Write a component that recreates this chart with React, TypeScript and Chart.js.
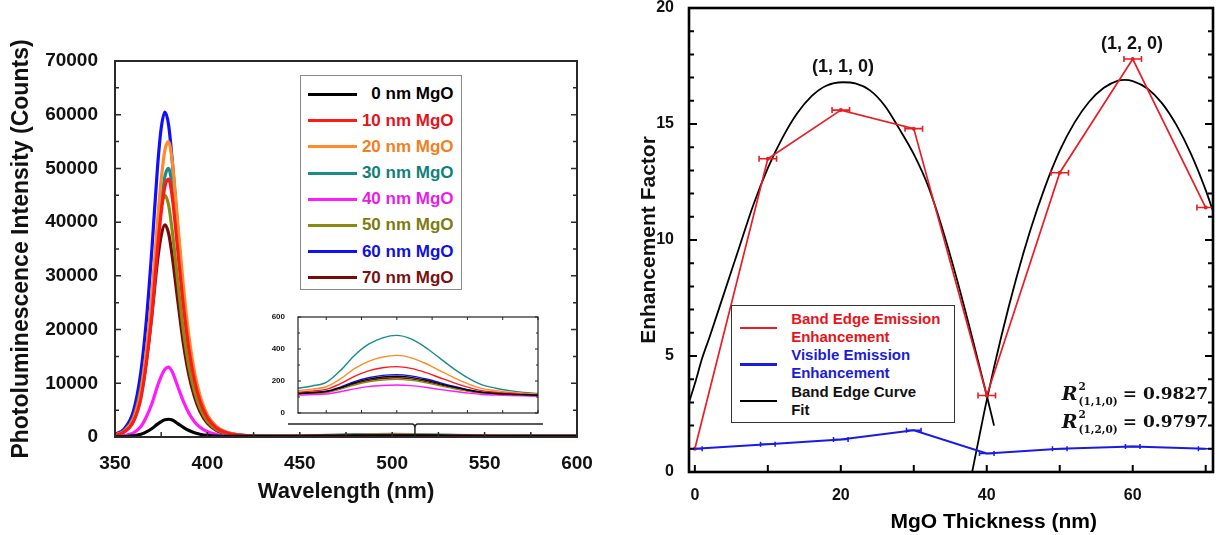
import React, { useEffect, useRef } from 'react';
import { Chart, registerables } from 'chart.js';

Chart.register(...registerables);
Chart.defaults.font.family = "'Liberation Sans', Arial, sans-serif";
Chart.defaults.color = '#000';

// ---------------- Left chart data ----------------
const seriesLabels = ['0 nm MgO', '10 nm MgO', '20 nm MgO', '30 nm MgO', '40 nm MgO', '50 nm MgO', '60 nm MgO', '70 nm MgO'];
const lineColors = ['#000000', '#ff1a1a', '#ff8c28', '#1a8c8c', '#ff1aff', '#8a8a10', '#1010ff', '#7a0a0a'];
const textColors = ['#000000', '#e4141c', '#f08020', '#117f7a', '#e81ce8', '#7c7c10', '#1010e0', '#7a1010'];

const bandWavelengths = [350, 355, 360, 364, 367, 370, 373, 375, 377, 379, 381, 384, 387, 390, 393, 396, 400, 405, 410, 415, 420];
const band0 = [20, 66, 200, 500, 960, 1580, 2400, 2870, 3200, 3300, 3150, 2500, 1800, 1200, 800, 520, 300, 170, 130, 125, 122];
const band10 = [290, 960, 2880, 7200, 13900, 23000, 35000, 41800, 46600, 48000, 44600, 34600, 24500, 16300, 10600, 6700, 3600, 1680, 820, 430, 240];
const band20 = [330, 1100, 3300, 8250, 16000, 26400, 40200, 47900, 53400, 55000, 51200, 39600, 28100, 18700, 12100, 7700, 4100, 1900, 940, 500, 280];
const band30 = [300, 1000, 3000, 7500, 14500, 24000, 36500, 43500, 48500, 50000, 46500, 36000, 25500, 17000, 11000, 7000, 3750, 1750, 850, 450, 250];
const band40 = [80, 260, 780, 1950, 3770, 6240, 9490, 11300, 12600, 13000, 12100, 9360, 6630, 4420, 2860, 1820, 980, 460, 220, 150, 120];
const band50 = [360, 1130, 3600, 9000, 16200, 26100, 37400, 42800, 45000, 43200, 38300, 28800, 19800, 13100, 8550, 5400, 2900, 1350, 680, 360, 225];
const band60 = [480, 1510, 4840, 12100, 21800, 35100, 50200, 57500, 60500, 58100, 51400, 38700, 26600, 17500, 11500, 7300, 3900, 1800, 900, 480, 300];
const band70 = [320, 990, 3160, 7900, 14200, 22900, 32800, 37500, 39500, 37900, 33600, 25300, 17400, 11500, 7500, 4740, 2570, 1190, 590, 320, 200];

const visWavelengths = [430, 440, 450, 460, 470, 480, 490, 500, 510, 520, 530, 540, 550, 560, 570, 580, 590, 600];
const vis0 = [122, 127, 134, 158, 189, 212, 225, 230, 223, 206, 184, 163, 144, 129, 122, 117, 114, 111];
const vis10 = [130, 137, 148, 183, 229, 263, 283, 290, 279, 254, 222, 190, 162, 140, 130, 123, 117, 114];
const vis20 = [140, 149, 164, 213, 277, 323, 350, 360, 345, 311, 267, 223, 184, 154, 140, 130, 122, 117];
const vis30 = [155, 169, 191, 265, 360, 430, 470, 485, 463, 412, 346, 279, 221, 177, 155, 140, 129, 122];
const vis40 = [112, 115, 119, 133, 151, 165, 172, 175, 171, 161, 148, 136, 125, 116, 112, 109, 107, 106];
const vis50 = [118, 122, 128, 149, 175, 195, 206, 210, 204, 190, 171, 153, 137, 124, 118, 114, 111, 109];
const vis60 = [123, 128, 136, 162, 196, 220, 235, 240, 232, 214, 191, 167, 146, 131, 123, 118, 114, 111];
const vis70 = [119, 124, 130, 153, 182, 203, 216, 220, 213, 198, 177, 157, 139, 126, 119, 115, 111, 109];

const bandSeries = [band0, band10, band20, band30, band40, band50, band60, band70];
const visSeries = [vis0, vis10, vis20, vis30, vis40, vis50, vis60, vis70];

const mainXTicks = { min: 350, max: 600, step: 50 };
const mainYTicks = { min: 0, max: 70000, step: 10000 };
const insetYTicks = { min: 0, max: 600, step: 200 };
const insetXRange = { min: 430, max: 600 };

// ---------------- Right chart data ----------------
const thickness = [0, 10, 20, 30, 40, 50, 60, 70];
const bandEdgeEnh = [1.0, 13.5, 15.6, 14.8, 3.3, 12.9, 17.8, 11.4];
const bandEdgeErr = [0, 1.2, 1.2, 1.2, 1.2, 1.2, 1.2, 1.2];
const visibleEnh = [1.0, 1.2, 1.4, 1.8, 0.8, 1.0, 1.1, 1.0];
const visibleErr = [1.0, 1.0, 1.0, 1.0, 1.0, 1.0, 1.0, 1.0];
const fit1X = [-0.8, 0, 1, 2, 4, 6, 8, 10, 12, 14, 16, 18, 20.3, 22, 24, 26, 28, 30, 32, 34, 36, 38, 40, 41];
const fit1Y = [3.0, 3.8, 4.9, 5.8, 7.7, 9.6, 11.5, 13.1, 14.4, 15.45, 16.2, 16.65, 16.8, 16.75, 16.45, 15.8, 14.8, 13.7, 12.3, 10.4, 8.2, 5.8, 3.3, 2.0];
const fit2X = [38, 39, 40, 42, 44, 46, 48, 50, 52, 54, 56, 58, 58.9, 60, 62, 64, 66, 68, 70, 71];
const fit2Y = [0.0, 1.57, 3.1, 5.85, 8.3, 10.45, 12.3, 13.85, 15.05, 15.95, 16.55, 16.87, 16.9, 16.85, 16.53, 15.9, 14.95, 13.7, 12.15, 11.25];
const peakLabels = ['(1, 1, 0)', '(1, 2, 0)'];
const peakLabelX = [20.3, 59.9];
const peakLabelY = [17.45, 18.45];
const rSquaredLabels = ['(1,1,0)', '(1,2,0)'];
const rSquaredValues = ['0.9827', '0.9797'];

const rightLegend = [
  { lines: ['Band Edge Emission', 'Enhancement'], color: '#ec1c24', text: '#e8141c' },
  { lines: ['Visible Emission', 'Enhancement'], color: '#1b1be6', text: '#1c1cd8' },
  { lines: ['Band Edge Curve', 'Fit'], color: '#000000', text: '#111111' },
];

// ---------------- Plugins ----------------
const frameTicks = {
  id: 'frameTicks',
  afterDraw(chart: any, _args: any, opts: any) {
    if (!opts || !opts.show) return;
    const { ctx, chartArea: a } = chart;
    const xs = chart.scales.x;
    const ys = chart.scales.y;
    const vals = (min: number, max: number, step: number) => {
      const out: number[] = [];
      const start = Math.ceil((min - 1e-6) / step) * step;
      for (let v = start; v <= max + 1e-6; v += step) out.push(Math.round(v * 1e6) / 1e6);
      return out;
    };
    const isMajor = (v: number, m: number) => Math.abs(v / m - Math.round(v / m)) < 1e-6;
    ctx.save();
    ctx.strokeStyle = opts.color;
    ctx.lineWidth = opts.tickWidth;
    ctx.beginPath();
    if (opts.yStep) {
      for (const v of vals(ys.min, ys.max, opts.yStep)) {
        const py = ys.getPixelForValue(v);
        const len = isMajor(v, opts.yMajor) ? opts.yMajorLen : opts.yMinorLen;
        ctx.moveTo(a.left, py); ctx.lineTo(a.left + len, py);
        if (opts.yMirror) { ctx.moveTo(a.right, py); ctx.lineTo(a.right - len, py); }
      }
    }
    if (opts.xStep) {
      for (const v of vals(xs.min, xs.max, opts.xStep)) {
        const px = xs.getPixelForValue(v);
        const len = isMajor(v, opts.xMajor) ? opts.xMajorLen : opts.xMinorLen;
        ctx.moveTo(px, a.bottom); ctx.lineTo(px, a.bottom - len);
        if (opts.xMirror) { ctx.moveTo(px, a.top); ctx.lineTo(px, a.top + len); }
      }
    }
    ctx.stroke();
    ctx.lineWidth = opts.frameWidth;
    ctx.strokeRect(a.left, a.top, a.right - a.left, a.bottom - a.top);
    ctx.restore();
  },
};

const bracketSpec = { from: 443.6, to: 581.6, tip: 512.3, level: 2420, drop: 0 };
const bracketPlugin = {
  id: 'bracket',
  afterDatasetsDraw(chart: any) {
    const { ctx } = chart;
    const xs = chart.scales.x;
    const ys = chart.scales.y;
    const x1 = xs.getPixelForValue(bracketSpec.from);
    const x2 = xs.getPixelForValue(bracketSpec.to);
    const xt = xs.getPixelForValue(bracketSpec.tip);
    const y = ys.getPixelForValue(bracketSpec.level);
    const yb = ys.getPixelForValue(bracketSpec.drop);
    ctx.save();
    ctx.strokeStyle = '#222';
    ctx.lineWidth = 1.5;
    ctx.beginPath();
    ctx.moveTo(x1, y);
    ctx.lineTo(xt - 3, y);
    ctx.quadraticCurveTo(xt, y, xt, y + 4);
    ctx.quadraticCurveTo(xt, y, xt + 3, y);
    ctx.lineTo(x2, y);
    ctx.moveTo(xt, y + 3);
    ctx.lineTo(xt, yb);
    ctx.stroke();
    ctx.restore();
  },
};

const errorBars = {
  id: 'errorBars',
  afterDatasetsDraw(chart: any) {
    const { ctx, chartArea: a } = chart;
    const xs = chart.scales.x;
    ctx.save();
    ctx.beginPath();
    ctx.rect(a.left, a.top, a.right - a.left, a.bottom - a.top);
    ctx.clip();
    chart.data.datasets.forEach((ds: any, i: number) => {
      if (!ds.xErr) return;
      const meta = chart.getDatasetMeta(i);
      ctx.strokeStyle = ds.borderColor;
      ctx.lineWidth = ds.errWidth || 1.5;
      ctx.beginPath();
      meta.data.forEach((pt: any, k: number) => {
        const d = ds.data[k];
        const e = ds.xErr[k];
        if (!e) return;
        const xl = xs.getPixelForValue(d.x - e);
        const xr = xs.getPixelForValue(d.x + e);
        const y = pt.y;
        const c = ds.capHalf || 3;
        ctx.moveTo(xl, y); ctx.lineTo(xr, y);
        ctx.moveTo(xl, y - c); ctx.lineTo(xl, y + c);
        ctx.moveTo(xr, y - c); ctx.lineTo(xr, y + c);
      });
      ctx.stroke();
    });
    ctx.restore();
  },
};

const rightText = {
  id: 'rightText',
  afterDraw(chart: any) {
    const { ctx } = chart;
    const xs = chart.scales.x;
    const ys = chart.scales.y;
    ctx.save();
    ctx.fillStyle = '#111';
    ctx.textAlign = 'center';
    ctx.textBaseline = 'middle';
    ctx.font = "bold 18px 'Liberation Sans', Arial, sans-serif";
    peakLabels.forEach((t, i) => {
      ctx.fillText(t, xs.getPixelForValue(peakLabelX[i]), ys.getPixelForValue(peakLabelY[i]));
    });
    ctx.font = "bold 21px 'Liberation Sans', Arial, sans-serif";
    ctx.fillStyle = '#000';
    ctx.fillText('MgO Thickness (nm)', xs.getPixelForValue(40) + 7, chart.height - 13);
    ctx.restore();
  },
};

// ---------------- Configs ----------------
function mainConfig(): any {
  const datasets = seriesLabels.map((label, i) => ({
    label,
    data: [
      ...bandWavelengths.map((w, k) => ({ x: w, y: bandSeries[i][k] })),
      ...visWavelengths.map((w, k) => ({ x: w, y: visSeries[i][k] })),
    ],
    borderColor: lineColors[i],
    borderWidth: 3.2,
    pointRadius: 0,
    cubicInterpolationMode: 'monotone',
    fill: false,
  }));
  return {
    type: 'line',
    data: { datasets },
    plugins: [frameTicks, bracketPlugin],
    options: {
      responsive: false,
      animation: false,
      layout: { padding: { top: 61, right: 23, left: 0, bottom: 0 } },
      plugins: {
        legend: { display: false },
        tooltip: { enabled: false },
        frameTicks: {
          show: true, color: '#2a2a2a', tickWidth: 1.5, frameWidth: 2,
          yStep: 5000, yMajor: 10000, yMajorLen: 6, yMinorLen: 4, yMirror: true,
          xStep: 25, xMajor: 50, xMajorLen: 5, xMinorLen: 5, xMirror: false,
        },
      },
      scales: {
        x: {
          type: 'linear', min: mainXTicks.min, max: mainXTicks.max,
          grid: { display: false }, border: { display: false },
          ticks: { stepSize: mainXTicks.step, font: { size: 19, weight: 'bold' }, padding: 7, color: '#111', maxRotation: 0 },
          title: { display: true, text: 'Wavelength (nm)', font: { size: 22, weight: 'bold' }, padding: { top: 0, bottom: 30 }, color: '#111' },
          afterFit: (s: any) => { s.height = 98; s.paddingLeft = 0; s.paddingRight = 0; },
        },
        y: {
          type: 'linear', min: mainYTicks.min, max: mainYTicks.max,
          grid: { display: false }, border: { display: false },
          ticks: { stepSize: mainYTicks.step, font: { size: 19, weight: 'bold' }, padding: 9, color: '#111', callback: (v: any) => String(v) },
          title: { display: true, text: 'Photoluminescence Intensity (Counts)', font: { size: 23, weight: 'bold' }, padding: { top: 8, bottom: 0 }, color: '#111' },
          afterFit: (s: any) => { s.width = 115; s.paddingTop = 0; s.paddingBottom = 0; },
        },
      },
    },
  };
}

function insetConfig(): any {
  const datasets = seriesLabels.map((label, i) => ({
    label,
    data: visWavelengths.map((w, k) => ({ x: w, y: visSeries[i][k] })),
    borderColor: lineColors[i],
    borderWidth: 1.4,
    pointRadius: 0,
    cubicInterpolationMode: 'monotone',
    fill: false,
  }));
  return {
    type: 'line',
    data: { datasets },
    plugins: [frameTicks],
    options: {
      responsive: false,
      animation: false,
      layout: { padding: { top: 17, right: 17, left: 0, bottom: 0 } },
      plugins: {
        legend: { display: false },
        tooltip: { enabled: false },
        frameTicks: {
          show: true, color: '#222', tickWidth: 1, frameWidth: 1.2,
          yStep: 100, yMajor: 200, yMajorLen: 3, yMinorLen: 2, yMirror: true,
          xStep: 25, xMajor: 25, xMajorLen: 3, xMinorLen: 3, xMirror: true,
        },
      },
      scales: {
        x: {
          type: 'linear', min: insetXRange.min, max: insetXRange.max,
          grid: { display: false }, border: { display: false },
          ticks: { display: false },
          afterFit: (s: any) => { s.height = 12; s.paddingLeft = 0; s.paddingRight = 0; },
        },
        y: {
          type: 'linear', min: insetYTicks.min, max: insetYTicks.max,
          grid: { display: false }, border: { display: false },
          ticks: { stepSize: insetYTicks.step, font: { size: 8, weight: 'bold' }, padding: 5, color: '#111', callback: (v: any) => String(v) },
          afterFit: (s: any) => { s.width = 28; s.paddingTop = 0; s.paddingBottom = 0; },
        },
      },
    },
  };
}

function rightConfig(): any {
  const pts = (xs: number[], ys: number[]) => xs.map((x, k) => ({ x, y: ys[k] }));
  return {
    type: 'line',
    data: {
      datasets: [
        {
          label: 'Band Edge Emission Enhancement', data: pts(thickness, bandEdgeEnh),
          borderColor: '#ec1c24', backgroundColor: '#ec1c24', borderWidth: 1.7,
          pointRadius: 2, pointBorderWidth: 0, tension: 0, xErr: bandEdgeErr, errWidth: 1.6, capHalf: 3,
        },
        {
          label: 'Visible Emission Enhancement', data: pts(thickness, visibleEnh),
          borderColor: '#1b1be6', backgroundColor: '#1b1be6', borderWidth: 2,
          pointRadius: 0, tension: 0, xErr: visibleErr, errWidth: 1.5, capHalf: 2.5,
        },
        {
          label: 'Band Edge Curve Fit', data: pts(fit1X, fit1Y),
          borderColor: '#000', borderWidth: 1.8, pointRadius: 0, cubicInterpolationMode: 'monotone',
        },
        {
          label: 'Band Edge Curve Fit 2', data: pts(fit2X, fit2Y),
          borderColor: '#000', borderWidth: 1.8, pointRadius: 0, cubicInterpolationMode: 'monotone',
        },
      ],
    },
    plugins: [frameTicks, errorBars, rightText],
    options: {
      responsive: false,
      animation: false,
      layout: { padding: { top: 8, right: 12, left: 0, bottom: 0 } },
      plugins: {
        legend: { display: false },
        tooltip: { enabled: false },
        frameTicks: {
          show: true, color: '#000', tickWidth: 2, frameWidth: 2.6,
          yStep: 1, yMajor: 5, yMajorLen: 8, yMinorLen: 5, yMirror: true,
          xStep: 10, xMajor: 10, xMajorLen: 7, xMinorLen: 7, xMirror: false,
        },
      },
      scales: {
        x: {
          type: 'linear', min: -0.8, max: 71,
          grid: { display: false }, border: { display: false },
          ticks: {
            stepSize: 10, includeBounds: false, font: { size: 16, weight: 'bold' }, padding: 5.5, color: '#111', maxRotation: 0,
            autoSkip: false,
            callback: (v: any) => (Math.round(v) % 20 === 0 ? String(v) : ''),
          },
          afterFit: (s: any) => { s.height = 63; s.paddingLeft = 0; s.paddingRight = 0; },
        },
        y: {
          type: 'linear', min: 0, max: 20,
          grid: { display: false }, border: { display: false },
          ticks: { stepSize: 5, font: { size: 16, weight: 'bold' }, padding: 7, color: '#111' },
          title: { display: true, text: 'Enhancement Factor', font: { size: 21, weight: 'bold' }, padding: { top: 17, bottom: 0 }, color: '#111' },
          afterFit: (s: any) => { s.width = 69; s.paddingTop = 0; s.paddingBottom = 0; },
        },
      },
    },
  };
}

// ---------------- Component ----------------
export default function App() {
  const mainRef = useRef<HTMLCanvasElement>(null);
  const insetRef = useRef<HTMLCanvasElement>(null);
  const rightRef = useRef<HTMLCanvasElement>(null);

  useEffect(() => {
    const charts = [
      new Chart(mainRef.current as HTMLCanvasElement, mainConfig()),
      new Chart(insetRef.current as HTMLCanvasElement, insetConfig()),
      new Chart(rightRef.current as HTMLCanvasElement, rightConfig()),
    ];
    return () => charts.forEach((c) => c.destroy());
  }, []);

  const sans = "'Liberation Sans', Arial, sans-serif";

  return (
    <div style={{ position: 'absolute', left: 0, top: 0, width: 1225, height: 535, background: '#fff', overflow: 'hidden', fontFamily: sans }}>
      <canvas ref={mainRef} width={600} height={535} style={{ position: 'absolute', left: 0, top: 0, width: 600, height: 535 }} />
      <canvas ref={insetRef} width={285} height={125} style={{ position: 'absolute', left: 270, top: 300, width: 285, height: 125 }} />
      <canvas ref={rightRef} width={605} height={535} style={{ position: 'absolute', left: 620, top: 0, width: 605, height: 535 }} />

      {/* Left legend */}
      <div style={{ position: 'absolute', left: 300, top: 75, width: 162, height: 215, boxSizing: 'border-box', border: '1.5px solid #8a8a8a', paddingTop: 5.4, background: '#fff' }}>
        {seriesLabels.map((label, i) => (
          <div key={label} style={{ height: 26.2, display: 'flex', alignItems: 'center' }}>
            <div style={{ marginLeft: 6.5, width: 49, height: 3, background: lineColors[i] }} />
            <div style={{ flex: 1, textAlign: 'right', paddingRight: 7.5, font: `bold 17px ${sans}`, color: textColors[i], whiteSpace: 'nowrap' }}>{label}</div>
          </div>
        ))}
      </div>

      {/* Right legend */}
      <div style={{ position: 'absolute', left: 731, top: 305, width: 224, height: 118, boxSizing: 'border-box', border: '1.5px solid #333', paddingTop: 3.6, background: '#fff' }}>
        {rightLegend.map((item) => (
          <div key={item.lines.join(' ')} style={{ display: 'flex', alignItems: 'center', height: 36.6 }}>
            <div style={{ marginLeft: 7.5, width: 37, height: 2.5, background: item.color }} />
            <div style={{ marginLeft: 14.7, font: `bold 15px ${sans}`, lineHeight: '18.3px', color: item.text, whiteSpace: 'nowrap' }}>
              {item.lines[0]}<br />{item.lines[1]}
            </div>
          </div>
        ))}
      </div>

      {/* R squared annotations */}
      {rSquaredLabels.map((sub, i) => (
        <div key={sub} style={{ position: 'absolute', right: 17, top: 379 + i * 28, height: 28, display: 'flex', alignItems: 'center', font: "bold 17px 'DejaVu Serif', serif", color: '#111', whiteSpace: 'nowrap' }}>
          <i style={{ fontSize: 19 }}>R</i>
          <span style={{ display: 'inline-flex', flexDirection: 'column', fontSize: 10.5, lineHeight: '15px', marginLeft: 1, marginTop: 2 }}>
            <span>2</span>
            <span>{sub}</span>
          </span>
          <span style={{ marginLeft: 5 }}>= {rSquaredValues[i]}</span>
        </div>
      ))}
    </div>
  );
}
